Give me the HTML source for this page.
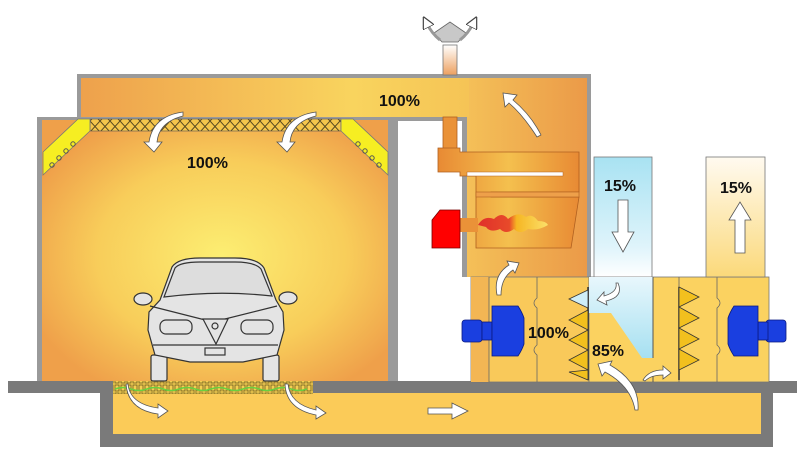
<!DOCTYPE html>
<html><head><meta charset="utf-8"><style>
html,body{margin:0;padding:0;background:#fff;width:806px;height:458px;overflow:hidden}
svg{display:block}
text{font-family:"Liberation Sans",sans-serif;font-weight:bold;fill:#111}
</style></head><body>
<svg width="806" height="458" viewBox="0 0 806 458" xmlns="http://www.w3.org/2000/svg">
<defs>
<radialGradient id="booth" cx="0.52" cy="0.52" r="0.6">
<stop offset="0" stop-color="#fcee72"/><stop offset="0.6" stop-color="#f8cd5a"/><stop offset="1" stop-color="#efa04a"/></radialGradient>
<linearGradient id="plen" x1="0" x2="1"><stop offset="0" stop-color="#eea14c"/><stop offset="0.7" stop-color="#f9d45e"/><stop offset="1" stop-color="#f5c456"/></linearGradient>
<linearGradient id="heat" x1="0" x2="1"><stop offset="0" stop-color="#f4c058"/><stop offset="1" stop-color="#eb9a48"/></linearGradient>
<linearGradient id="pipe" x1="0" y1="0" x2="1" y2="0"><stop offset="0" stop-color="#e88a34"/><stop offset="0.5" stop-color="#f4c04e"/><stop offset="1" stop-color="#e88a34"/></linearGradient>
<linearGradient id="blue" x1="0" y1="0" x2="0" y2="1"><stop offset="0" stop-color="#a8e2f2"/><stop offset="0.75" stop-color="#dff4fb"/><stop offset="1" stop-color="#ffffff"/></linearGradient>
<linearGradient id="blue2" x1="0" y1="0" x2="0" y2="1"><stop offset="0" stop-color="#e8f7fc"/><stop offset="1" stop-color="#a6e0f1"/></linearGradient>
<linearGradient id="cream" x1="0" y1="0" x2="0" y2="1"><stop offset="0" stop-color="#fffaf0"/><stop offset="1" stop-color="#fbd97a"/></linearGradient>
<linearGradient id="stack" x1="0" y1="0" x2="0" y2="1"><stop offset="0" stop-color="#fff"/><stop offset="1" stop-color="#eda060"/></linearGradient>
<linearGradient id="flame" x1="0" x2="1"><stop offset="0" stop-color="#e0302a"/><stop offset="0.45" stop-color="#e84a2a"/><stop offset="0.55" stop-color="#f6b623"/><stop offset="1" stop-color="#fbe06a"/></linearGradient>
<pattern id="hatch" width="10" height="11" patternUnits="userSpaceOnUse">
<rect width="10" height="11" fill="#f5c64c"/><path d="M0 0L10 11M10 0L0 11" stroke="#5a4a20" stroke-width="1"/></pattern>
<pattern id="grate" width="6" height="8" patternUnits="userSpaceOnUse">
<rect width="6" height="8" fill="#f5cf52"/><rect x="1" y="1" width="4" height="6" fill="none" stroke="#6a5a20" stroke-width="0.8"/></pattern>
<marker id="ah" viewBox="0 0 10 10" refX="5" refY="5" markerWidth="4" markerHeight="4" orient="auto"><path d="M0 0L10 5L0 10z" fill="#fff" stroke="#444" stroke-width="1"/></marker>
</defs>

<!-- pit -->
<rect x="100" y="382" width="673" height="65" fill="#7a7a7a"/>
<rect x="113" y="393" width="648" height="41" fill="#fbcb58"/>
<rect x="8" y="381" width="585" height="12" fill="#7a7a7a"/>
<rect x="762" y="381" width="35" height="12" fill="#7a7a7a"/>
<rect x="113" y="380" width="200" height="14" fill="url(#grate)"/>
<path d="M115 389 q8 -3 16 0 t16 0 t16 0 t16 0 t16 0 t16 0 t16 0 t16 0 t16 0 t16 0 t16 0 t16 0" stroke="#6ad040" stroke-width="1.5" fill="none"/>

<!-- booth -->
<rect x="37" y="117" width="358" height="264" fill="#9a9a9a"/>
<rect x="42" y="120" width="346" height="261" fill="url(#booth)"/>
<rect x="77" y="74" width="514" height="46" fill="#9a9a9a"/>
<!-- heater box -->
<rect x="465" y="74" width="126" height="203" fill="#9a9a9a"/>
<rect x="467" y="78" width="120" height="199" fill="url(#heat)"/>
<rect x="81" y="78" width="388" height="39" fill="url(#plen)"/>
<rect x="395" y="117" width="70" height="4" fill="#9a9a9a"/>
<rect x="395" y="121" width="70" height="260" fill="#fff"/>
<rect x="395" y="117" width="3" height="264" fill="#9a9a9a"/>
<rect x="462" y="117" width="5" height="160" fill="#9a9a9a"/>
<!-- ceiling filter -->
<rect x="90" y="119" width="251" height="12" fill="url(#hatch)" stroke="#555" stroke-width="0.6"/>
<!-- corner lights -->
<polygon points="43,152 78,119 90,119 90,131 43,175" fill="#f6ee22" stroke="#777" stroke-width="0.8"/>
<g fill="none" stroke="#555" stroke-width="1"><circle cx="52" cy="165" r="2.2"/><circle cx="59" cy="158" r="2.2"/><circle cx="66" cy="151" r="2.2"/><circle cx="73" cy="144" r="2.2"/></g>
<polygon points="388,152 353,119 341,119 341,131 388,175" fill="#f6ee22" stroke="#777" stroke-width="0.8"/>
<g fill="none" stroke="#555" stroke-width="1"><circle cx="379" cy="165" r="2.2"/><circle cx="372" cy="158" r="2.2"/><circle cx="365" cy="151" r="2.2"/><circle cx="358" cy="144" r="2.2"/></g>

<!-- stack -->
<rect x="443" y="45" width="14" height="30" fill="url(#stack)" stroke="#777" stroke-width="0.8"/>
<polygon points="434,33 450,22 466,33 458,42 442,42" fill="#c8c8c8" stroke="#666" stroke-width="0.8"/>
<path d="M440 40 q-8 -6 -14 -18" stroke="#999" stroke-width="3" fill="none" marker-end="url(#ah)"/>
<path d="M460 40 q8 -6 14 -18" stroke="#999" stroke-width="3" fill="none" marker-end="url(#ah)"/>

<!-- heat exchanger -->
<rect x="443" y="117" width="14" height="35" fill="#ea9238" stroke="#b06020" stroke-width="0.8"/>
<path d="M438 148 H460 V152 H579 V192 H491 V197 H579 L571 248 H476 V176 H460 V172 H438 Z" fill="url(#pipe)" stroke="#b06020" stroke-width="0.8"/>
<rect x="476" y="192" width="103" height="5" fill="#eea04a" stroke="#b06020" stroke-width="0.6"/>
<rect x="467" y="172" width="96" height="4" fill="#fff" stroke="#b06020" stroke-width="0.5"/>
<rect x="458" y="218" width="20" height="14" fill="#ea9238"/>
<path d="M478 225 q6 -10 16 -6 q8 -8 14 0 q10 -8 18 -2 q6 -4 12 4 q8 0 10 4 q-10 6 -20 4 q-8 6 -14 0 q-8 6 -14 0 q-10 4 -14 -2 z" fill="url(#flame)"/>
<polygon points="440,210 460,210 460,248 432,248 432,220" fill="#f00" stroke="#700" stroke-width="0.8"/>

<!-- AHU -->
<rect x="471" y="277" width="118" height="105" fill="#f9c95a" stroke="#777" stroke-width="0.8"/>
<rect x="471" y="277" width="18" height="105" fill="#f3b654"/>
<rect x="589" y="277" width="180" height="105" fill="#fbd260" stroke="#777" stroke-width="0.8"/>
<line x1="489" y1="277" x2="489" y2="382" stroke="#666" stroke-width="0.8"/>
<path d="M537 277 V298 q-6 5 0 10 V345 q-6 5 0 10 V382" stroke="#666" stroke-width="0.8" fill="none"/>
<path d="M717 277 V298 q6 5 0 10 V345 q6 5 0 10 V382" stroke="#666" stroke-width="0.8" fill="none"/>
<line x1="679" y1="277" x2="679" y2="382" stroke="#666" stroke-width="0.8"/>
<!-- fresh air -->
<rect x="594" y="157" width="58" height="120" fill="url(#blue)" stroke="#777" stroke-width="0.8"/>
<polygon points="589,277 653,277 653,358 642,358 611,313 589,313" fill="url(#blue2)"/>
<line x1="653" y1="277" x2="653" y2="358" stroke="#555" stroke-width="1"/>
<line x1="653" y1="373" x2="653" y2="382" stroke="#555" stroke-width="1"/>
<line x1="653" y1="373" x2="660" y2="373" stroke="#555" stroke-width="1"/>
<rect x="706" y="157" width="59" height="120" fill="url(#cream)" stroke="#777" stroke-width="0.8"/>
<!-- filters -->
<line x1="588" y1="287" x2="588" y2="380" stroke="#333" stroke-width="1.5"/>
<polygon points="588,290 569,299 588,308" fill="#cfeef8" stroke="#333" stroke-width="0.8"/>
<polygon points="588,310 569,320 588,330 569,340 588,350 569,360 588,370" fill="#f2c01e" stroke="#333" stroke-width="0.8"/>
<polygon points="588,370 569,372 588,380" fill="#f2c01e" stroke="#333" stroke-width="0.8"/>
<line x1="679" y1="287" x2="679" y2="380" stroke="#333" stroke-width="1.5"/>
<polygon points="679,287 699,297 679,307 699,318 679,328 699,339 679,349 699,360 679,370" fill="#f2c01e" stroke="#333" stroke-width="0.8"/>
<!-- fans -->
<g fill="#1a3fe0" stroke="#0a1a80" stroke-width="0.8">
<rect x="462" y="320" width="20" height="22" rx="3"/>
<rect x="482" y="322" width="10" height="18"/>
<path d="M492 306 H518 q4 6 6 12 V344 q-2 6 -6 12 H492 Z"/>
<rect x="766" y="320" width="20" height="22" rx="3"/>
<rect x="758" y="322" width="10" height="18"/>
<path d="M758 306 H734 q-4 6 -6 12 V344 q2 6 6 12 H758 Z"/>
</g>

<!-- car -->
<g stroke="#333" stroke-width="1.2" fill="#e4e4e4">
<rect x="151" y="355" width="16" height="26" rx="2"/>
<rect x="263" y="355" width="16" height="26" rx="2"/>
<ellipse cx="143" cy="299" rx="9" ry="6"/>
<ellipse cx="288" cy="298" rx="9" ry="6"/>
<path d="M160 300 L172 267 Q178 258 200 258 H235 Q258 258 264 268 L276 300 L283 312 L284 330 L277 355 L243 362 H190 L155 355 L148 330 L149 312 Z"/>
<path d="M164 297 L175 268 Q180 262 200 262 H235 Q255 262 261 269 L272 296 Q218 290 164 297 Z" fill="#ddd"/>
<path d="M150 306 L213 322 L277 306" fill="none"/>
<rect x="160" y="320" width="32" height="14" rx="6"/>
<rect x="241" y="320" width="32" height="14" rx="6"/>
<path d="M203 319 H228 L216 344 Z"/>
<circle cx="215" cy="326" r="3"/>
<path d="M153 345 H278" fill="none"/>
<rect x="205" y="348" width="20" height="7"/>
</g>

<!-- arrows -->
<g fill="#fff" stroke="#555" stroke-width="0.8">
<path d="M183 112 q-30 4 -34 30 l-5 0 l10 10 l8 -10 l-5 0 q2 -20 26 -26 z"/>
<path d="M316 112 q-30 4 -34 30 l-5 0 l10 10 l8 -10 l-5 0 q2 -20 26 -26 z"/>
<path d="M541 135 q-10 -20 -28 -35 l4 -5 l-14 -2 l2 14 l4 -4 q14 12 28 34 z"/>
<path d="M497 295 q-4 -20 12 -30 l-2 -4 l12 2 l-4 10 l-2 -3 q-12 8 -12 25 z"/>
<path d="M128 384 q2 20 30 24 l0 -4 l10 7 l-10 7 l0 -4 q-30 -4 -32 -30 z"/>
<path d="M288 384 q2 20 28 26 l0 -4 l10 7 l-10 6 l0 -4 q-30 -6 -31 -31 z"/>
<path d="M428 408 H452 V403 L468 411 L452 419 V414 H428 Z"/>
<path d="M618 200 H628 V232 H634 L623 252 L612 232 H618 Z"/>
<path d="M735 253 H745 V220 H751 L740 202 L729 220 H735 Z"/>
<path d="M618 283 q6 14 -12 18 l1 4 l-10 -5 l7 -8 l0 4 q14 -4 12 -13 z"/>
<path d="M638 410 q2 -28 -28 -45 l2 -4 l-14 3 l4 12 l3 -4 q26 14 30 38 z"/>
<path d="M643 380 q6 -10 20 -10 l0 -4 l8 7 l-8 6 l0 -4 q-12 0 -18 6 z"/>
</g>

<!-- labels -->
<text x="379" y="106" font-size="16">100%</text>
<text x="187" y="168" font-size="16">100%</text>
<text x="604" y="191" font-size="16">15%</text>
<text x="720" y="193" font-size="16">15%</text>
<text x="528" y="338" font-size="16">100%</text>
<text x="592" y="356" font-size="16">85%</text>
</svg>
</body></html>
